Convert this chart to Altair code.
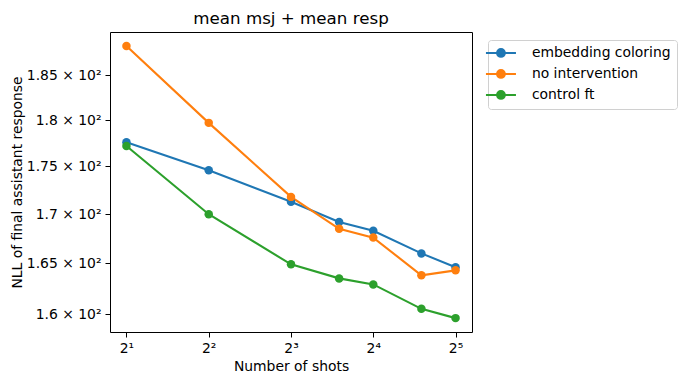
import altair as alt
import pandas as pd

shots = [2, 4, 8, 12, 16, 24, 32]
series_names = ["embedding coloring", "no intervention", "control ft"]
embedding_coloring = [177.6, 174.6, 171.3, 169.2, 168.3, 166.0, 164.6]
no_intervention = [188.3, 179.7, 171.8, 168.5, 167.6, 163.8, 164.3]
control_ft = [177.2, 170.0, 164.9, 163.5, 162.9, 160.5, 159.6]
colors = ["#1f77b4", "#ff7f0e", "#2ca02c"]

xtick_values = [2, 4, 8, 16, 32]
xtick_labels = ["2¹", "2²", "2³", "2⁴", "2⁵"]
ytick_values = [160, 165, 170, 175, 180, 185]
ytick_labels = ["1.6 × 10²", "1.65 × 10²", "1.7 × 10²", "1.75 × 10²", "1.8 × 10²", "1.85 × 10²"]

rows = []
for name, vals in zip(series_names, [embedding_coloring, no_intervention, control_ft]):
    for s, v in zip(shots, vals):
        rows.append({"shots": s, "nll": v, "series": name})
df = pd.DataFrame(rows)

FONT = "DejaVu Sans"


def js_list(items):
    return "[" + ",".join(repr(i) if isinstance(i, str) else str(i) for i in items) + "]"


x_expr = f"{js_list(xtick_labels)}[indexof({js_list(xtick_values)}, datum.value)]"
y_expr = f"{js_list(ytick_labels)}[indexof({js_list(ytick_values)}, datum.value)]"

x_enc = alt.X(
    "shots:Q",
    scale=alt.Scale(type="log", base=2, domain=[1.741, 36.76], nice=False, zero=False),
    axis=alt.Axis(values=xtick_values, labelExpr=x_expr, title="Number of shots",
                  grid=False, domain=False, tickColor="black", tickSize=5, tickWidth=1,
                  labelPadding=4, labelFontSize=13.9, labelColor="black", labelFont=FONT,
                  titleFont=FONT, titleFontSize=13.9, titleFontWeight="normal",
                  titleColor="black", titlePadding=5, labelFlush=False),
)
y_enc = alt.Y(
    "nll:Q",
    scale=alt.Scale(type="log", domain=[158.26, 189.9], nice=False, zero=False),
    axis=alt.Axis(values=ytick_values, labelExpr=y_expr, title="NLL of final assistant response",
                  grid=False, domain=False, tickColor="black", tickSize=5, tickWidth=1,
                  labelPadding=4, labelFontSize=13.9, labelColor="black", labelFont=FONT,
                  titleFont=FONT, titleFontSize=13.9, titleFontWeight="normal",
                  titleColor="black", titlePadding=2, labelFlush=False),
)

legend_path = "M-5,0H5M-1.3,0A1.3,1.3,0,1,1,1.3,0A1.3,1.3,0,1,1,-1.3,0Z"
legend = alt.Legend(
    title=None, orient="none", legendX=378, legendY=8,
    strokeColor="#d0d0d0", fillColor="white", cornerRadius=3, padding=6,
    labelFont=FONT, labelFontSize=13.9, labelColor="black", labelOffset=24,
    symbolType=legend_path, symbolSize=36, symbolStrokeWidth=2, rowPadding=5,
)

line = alt.Chart(df).mark_line(strokeWidth=2.1).encode(
    x=x_enc, y=y_enc,
    stroke=alt.Stroke("series:N", scale=alt.Scale(domain=series_names, range=colors), legend=legend),
    order=alt.Order("shots:Q"),
)
points = alt.Chart(df).mark_point(filled=True, size=72, opacity=1).encode(
    x=x_enc, y=y_enc,
    fill=alt.Fill("series:N", scale=alt.Scale(domain=series_names, range=colors), legend=legend),
)

chart = alt.layer(line, points).properties(
    width=362, height=300,
    title=alt.TitleParams("mean msj + mean resp", font=FONT, fontSize=16.7, fontWeight="normal",
                          color="black", offset=4, anchor="middle"),
    autosize=alt.AutoSizeParams(type="none"),
    padding={"left": 102, "top": 24, "right": 206, "bottom": 44},
).configure_view(stroke="black", strokeWidth=1)

chart.save("out.html", embed_options={"renderer": "svg", "actions": False})
